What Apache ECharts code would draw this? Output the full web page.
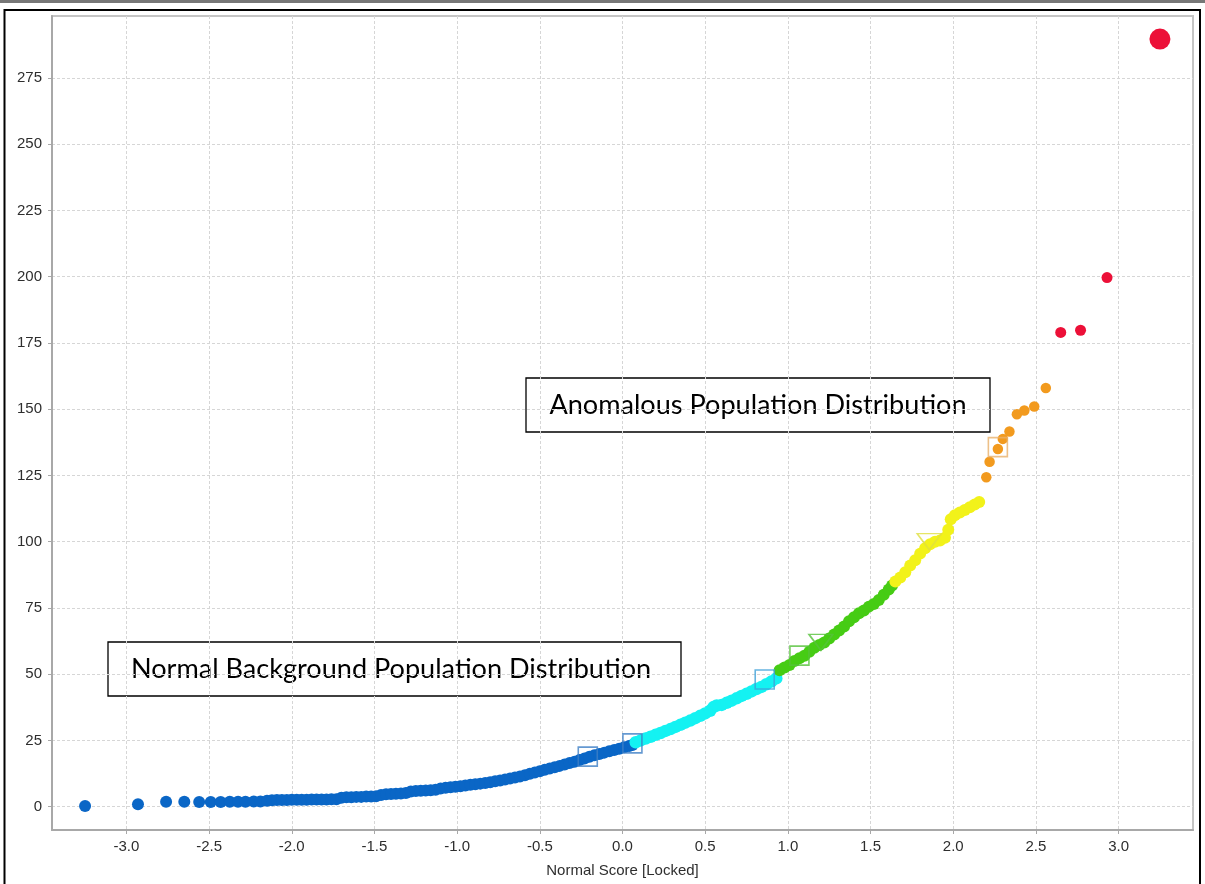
<!DOCTYPE html>
<html>
<head>
<meta charset="utf-8">
<script src="https://cdn.jsdelivr.net/npm/echarts@6/dist/echarts.min.js"></script>
<style>
html,body{margin:0;padding:0;background:#fff;}
#chart{width:1205px;height:884px;}
</style>
</head>
<body>
<div id="chart"></div>
<script>
// ---- data (normal score vs value) ----
const blueX = [-3.25,-2.93,-2.76,-2.65,-2.56,-2.49,-2.43,-2.375,-2.325,-2.28,-2.23,-2.19,-2.15,-2.12,-2.09,-2.06,-2.03,-2.00,-1.97,-1.94,-1.91,-1.88,-1.85,-1.82,-1.79,-1.76,-1.73,-1.70,-1.67,-1.64,-1.61,-1.58,-1.55,-1.52,-1.49,-1.46,-1.43,-1.40,-1.37,-1.34,-1.31,-1.28,-1.25,-1.22,-1.19,-1.16,-1.13,-1.10,-1.07,-1.04,-1.01,-0.98,-0.95,-0.92,-0.89,-0.86,-0.83,-0.80,-0.77,-0.74,-0.71,-0.68,-0.65,-0.62,-0.59,-0.56,-0.53,-0.50,-0.47,-0.44,-0.41,-0.38,-0.35,-0.32,-0.29,-0.26,-0.23,-0.20,-0.17,-0.14,-0.11,-0.08,-0.05,-0.02,0.01,0.04,0.06];
const blueY = [0.3,0.9,1.9,1.9,1.8,1.8,1.8,1.9,1.9,1.9,2.0,2.0,2.2,2.4,2.5,2.5,2.5,2.6,2.6,2.6,2.6,2.7,2.7,2.7,2.7,2.8,2.8,3.4,3.6,3.6,3.7,3.7,3.8,3.8,3.9,4.4,4.7,4.8,4.9,5.0,5.2,5.7,5.9,6.0,6.1,6.2,6.4,6.9,7.1,7.3,7.5,7.7,8.0,8.3,8.5,8.7,8.9,9.2,9.6,9.9,10.3,10.6,11.0,11.4,11.9,12.4,12.9,13.4,13.9,14.4,14.9,15.4,15.9,16.5,17.0,17.6,18.2,18.8,19.4,19.9,20.4,20.9,21.4,21.9,22.4,22.9,23.3];
const cyanX = [0.08,0.11,0.14,0.17,0.20,0.23,0.26,0.29,0.32,0.35,0.38,0.41,0.44,0.47,0.50,0.53,0.55,0.57,0.60,0.63,0.66,0.69,0.72,0.75,0.78,0.81,0.84,0.87,0.90,0.93];
const cyanY = [24.3,25.0,25.7,26.4,27.1,27.8,28.6,29.3,30.1,30.9,31.7,32.5,33.4,34.3,35.2,36.2,37.6,38.2,38.4,39.2,40.0,40.9,41.8,42.6,43.5,44.4,45.2,46.2,47.2,48.4];
const greenX = [0.95,0.98,1.01,1.04,1.07,1.10,1.13,1.16,1.19,1.22,1.25,1.28,1.31,1.34,1.37,1.40,1.43,1.46,1.49,1.52,1.55,1.58,1.61,1.63];
const greenY = [51.5,52.5,53.5,55.0,56.0,57.0,58.5,60.0,61.0,62.0,63.5,65.0,66.5,68.0,70.0,71.5,73.0,74.0,75.5,76.5,78.0,80.0,82.0,83.5];
const yellowX = [1.65,1.68,1.71,1.74,1.77,1.80,1.83,1.86,1.89,1.92,1.95,1.97,1.985,2.01,2.04,2.07,2.10,2.13,2.157];
const yellowY = [85.0,86.5,88.5,91.0,93.0,95.5,97.5,99.0,100.0,100.5,101.5,104.5,108.5,110.0,111.0,112.0,113.0,114.0,115.0];
const orangeX = [2.20,2.22,2.27,2.30,2.34,2.385,2.43,2.49,2.56];
const orangeY = [124.3,130.2,135.0,138.8,141.6,148.1,149.5,151.0,158.0];
const redX = [2.65,2.77,2.93];
const redY = [179.0,179.8,199.7];
const highlightX = [3.25];
const highlightY = [289.7];
// hollow quantile markers
const squareX = [-0.21,0.06,0.86,1.07,2.27];
const squareY = [18.9,23.9,48.0,57.0,135.7];
const squareColors = ['#3f7fc6','#3f7fc6','#3fa0d8','#55c23a','#e9b06a'];
const triangleX = [1.20,1.855];
const triangleY = [62.0,100.0];
const triangleColors = ['#55c23a','#e0e040'];
// axis ticks
const xTicks = [-3.0,-2.5,-2.0,-1.5,-1.0,-0.5,0.0,0.5,1.0,1.5,2.0,2.5,3.0];
const yTicks = [0,25,50,75,100,125,150,175,200,225,250,275];
const xName = 'Normal Score [Locked]';
const note1 = 'Anomalous Population Distribution';
const note2 = 'Normal Background Population Distribution';

function zip(xs, ys){ return xs.map((x,i)=>[x, ys[i]]); }

// fit annotation font size to measured box text width
function fitSize(text, family, target){
  const c = document.createElement('canvas').getContext('2d');
  c.font = '100px ' + family;
  const w = c.measureText(text).width;
  return Math.round(100 * target / w * 10) / 10;
}
const annFamily = 'Lato';
const annSize = fitSize(note1, annFamily, 417);

const chart = echarts.init(document.getElementById('chart'), null, {renderer:'canvas'});
function dot(name, xs, ys, color, size){
  return {name:name, type:'scatter', data:zip(xs,ys), symbol:'circle', symbolSize:size,
    itemStyle:{color:color, opacity:1}, emphasis:{disabled:true}, animation:false};
}
const gridLineStyle = {color:'#d6d6d6', width:1, type:[3,2]};
const labelStyle = {color:'#2e2e2e', fontSize:15, fontFamily:'Liberation Sans, Arial, sans-serif'};

const option = {
  animation:false,
  backgroundColor:'#fff',
  grid:{left:52, right:12, top:16, bottom:54, show:true, borderColor:'#c4c4c4', borderWidth:2, backgroundColor:'#fff'},
  xAxis:{type:'value', min:-3.45, max:3.45,
    name:xName, nameLocation:'middle', nameGap:33,
    nameTextStyle:{color:'#2e2e2e', fontSize:15, fontFamily:'Liberation Sans, Arial, sans-serif'},
    axisLine:{show:true, onZero:false, lineStyle:{color:'#a8a8a8', width:2}},
    axisTick:{show:true, length:4, lineStyle:{color:'#a8a8a8'}, customValues:xTicks},
    axisLabel:Object.assign({margin:9, customValues:xTicks, formatter:v=>v.toFixed(1)}, labelStyle),
    splitLine:{show:true, lineStyle:gridLineStyle}},
  yAxis:{type:'value', min:-8.8, max:298.4,
    axisLine:{show:true, onZero:false, lineStyle:{color:'#a8a8a8', width:2}},
    axisTick:{show:true, length:4, lineStyle:{color:'#a8a8a8'}, customValues:yTicks},
    axisLabel:Object.assign({margin:10, customValues:yTicks}, labelStyle),
    splitLine:{show:true, lineStyle:gridLineStyle}},
  series:[
    dot('blue', blueX, blueY, '#0a66c6', 12),
    dot('cyan', cyanX, cyanY, '#14f2f2', 12.5),
    dot('green', greenX, greenY, '#46cc14', 12),
    dot('yellow', yellowX, yellowY, '#f2f21a', 12),
    dot('orange', orangeX, orangeY, '#f29a1e', 10.5),
    dot('red', redX, redY, '#ec1038', 11),
    dot('highlight', highlightX, highlightY, '#ec1038', 21),
    {name:'quantile', type:'scatter', symbol:'rect', symbolSize:19, animation:false,
      data:squareX.map((x,i)=>({value:[x, squareY[i]], itemStyle:{color:'rgba(255,255,255,0)', borderColor:squareColors[i], borderWidth:1.6}})),
      emphasis:{disabled:true}},
    {name:'quantile2', type:'scatter', symbol:'triangle', symbolRotate:180, symbolSize:[24,16], animation:false,
      data:triangleX.map((x,i)=>({value:[x, triangleY[i]], itemStyle:{color:'rgba(255,255,255,0)', borderColor:triangleColors[i], borderWidth:1.6}})),
      emphasis:{disabled:true}}
  ],
  graphic:[
    {type:'rect', left:0, top:0, shape:{width:1205, height:3}, style:{fill:'#777'}, silent:true},
    {type:'rect', shape:{x:4.5, y:10, width:1195.5, height:900}, style:{fill:'none', stroke:'#000', lineWidth:2}, silent:true, z:100},
    {type:'group', z:90, children:[
      {type:'rect', shape:{x:526, y:378, width:464, height:54}, style:{fill:'#fff', stroke:'#000', lineWidth:1.3}},
      {type:'text', x:758, y:405, style:{text:note1, fill:'#000', font: annSize + 'px ' + annFamily, textAlign:'center', textVerticalAlign:'middle'}}
    ]},
    {type:'group', z:90, children:[
      {type:'rect', shape:{x:108, y:642, width:573, height:54}, style:{fill:'#fff', stroke:'#000', lineWidth:1.3}},
      {type:'text', x:391, y:669, style:{text:note2, fill:'#000', font: annSize + 'px ' + annFamily, textAlign:'center', textVerticalAlign:'middle'}}
    ]}
  ]
};
chart.setOption(option);
</script>
</body>
</html>
